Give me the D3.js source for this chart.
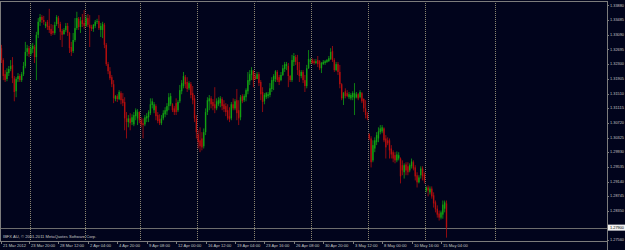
<!DOCTYPE html>
<html>
<head>
<meta charset="utf-8">
<script src="https://cdn.jsdelivr.net/npm/d3@7"></script>
<style>
html, body { margin: 0; padding: 0; background: #01041c; }
svg { display: block; }
text { font-family: "Liberation Sans", Arial, sans-serif; }
</style>
</head>
<body>
<svg id="chart" width="625" height="250"></svg>
<script>
// EURUSD H4 bars, [open, high, low, close]
const candles = [
	[1.3241,1.3268,1.3236,1.3263],[1.3273,1.3282,1.3233,1.3241],[1.3241,1.3246,1.3187,1.3198],[1.3203,1.3214,1.3182,1.3187],
	[1.3190,1.3219,1.3184,1.3209],[1.3206,1.3225,1.3198,1.3217],[1.3217,1.3241,1.3211,1.3225],[1.3228,1.3249,1.3179,1.3192],
	[1.3192,1.3198,1.3130,1.3155],[1.3157,1.3195,1.3141,1.3190],[1.3190,1.3206,1.3182,1.3198],[1.3198,1.3203,1.3182,1.3187],
	[1.3187,1.3209,1.3182,1.3203],[1.3203,1.3236,1.3198,1.3225],[1.3225,1.3290,1.3219,1.3263],[1.3263,1.3282,1.3252,1.3273],
	[1.3273,1.3279,1.3249,1.3257],[1.3257,1.3284,1.3252,1.3273],[1.3271,1.3287,1.3260,1.3279],[1.3276,1.3282,1.3233,1.3249],
	[1.3249,1.3317,1.3187,1.3309],[1.3309,1.3354,1.3300,1.3344],[1.3344,1.3365,1.3333,1.3357],[1.3357,1.3362,1.3341,1.3349],
	[1.3349,1.3360,1.3336,1.3344],[1.3333,1.3344,1.3327,1.3338],[1.3344,1.3349,1.3322,1.3330],[1.3333,1.3379,1.3314,1.3322],
	[1.3325,1.3338,1.3306,1.3311],[1.3319,1.3336,1.3309,1.3314],[1.3314,1.3344,1.3309,1.3336],[1.3338,1.3362,1.3333,1.3357],
	[1.3354,1.3360,1.3327,1.3338],[1.3338,1.3344,1.3295,1.3317],[1.3319,1.3325,1.3276,1.3309],[1.3311,1.3327,1.3309,1.3322],
	[1.3322,1.3341,1.3317,1.3333],[1.3333,1.3341,1.3306,1.3314],[1.3314,1.3317,1.3260,1.3273],[1.3276,1.3290,1.3252,1.3263],
	[1.3265,1.3314,1.3260,1.3295],[1.3295,1.3354,1.3290,1.3327],[1.3327,1.3371,1.3322,1.3354],[1.3352,1.3357,1.3322,1.3330],
	[1.3330,1.3357,1.3314,1.3346],[1.3349,1.3365,1.3330,1.3338],[1.3341,1.3376,1.3325,1.3333],[1.3333,1.3362,1.3330,1.3354],
	[1.3354,1.3365,1.3330,1.3336],[1.3336,1.3362,1.3276,1.3327],[1.3330,1.3336,1.3319,1.3325],[1.3325,1.3338,1.3317,1.3336],
	[1.3333,1.3349,1.3327,1.3344],[1.3344,1.3352,1.3338,1.3346],[1.3346,1.3362,1.3322,1.3327],[1.3322,1.3341,1.3303,1.3333],
	[1.3322,1.3344,1.3300,1.3338],[1.3336,1.3341,1.3273,1.3282],[1.3282,1.3287,1.3225,1.3230],[1.3230,1.3236,1.3203,1.3211],
	[1.3211,1.3222,1.3187,1.3192],[1.3195,1.3201,1.3168,1.3176],[1.3176,1.3187,1.3125,1.3138],[1.3136,1.3147,1.3130,1.3144],
	[1.3144,1.3149,1.3128,1.3136],[1.3136,1.3160,1.3133,1.3155],[1.3152,1.3157,1.3122,1.3133],[1.3136,1.3152,1.3117,1.3125],
	[1.3128,1.3141,1.3052,1.3084],[1.3084,1.3101,1.3030,1.3074],[1.3074,1.3093,1.3060,1.3084],[1.3084,1.3098,1.3052,1.3071],
	[1.3074,1.3095,1.3066,1.3087],[1.3068,1.3101,1.3063,1.3093],[1.3090,1.3111,1.3079,1.3106],[1.3084,1.3109,1.3066,1.3101],
	[1.3101,1.3103,1.3071,1.3079],[1.3079,1.3087,1.3060,1.3068],[1.3071,1.3084,1.3030,1.3066],[1.3068,1.3093,1.3063,1.3087],
	[1.3084,1.3098,1.3074,1.3090],[1.3087,1.3106,1.3074,1.3101],[1.3098,1.3138,1.3093,1.3122],[1.3120,1.3138,1.3111,1.3130],
	[1.3106,1.3128,1.3098,1.3122],[1.3117,1.3122,1.3079,1.3090],[1.3093,1.3101,1.3071,1.3077],[1.3082,1.3095,1.3066,1.3071],
	[1.3071,1.3093,1.3066,1.3084],[1.3084,1.3106,1.3079,1.3098],[1.3095,1.3114,1.3087,1.3106],[1.3103,1.3125,1.3093,1.3117],
	[1.3117,1.3152,1.3106,1.3141],[1.3122,1.3152,1.3117,1.3144],[1.3122,1.3125,1.3101,1.3106],[1.3111,1.3117,1.3093,1.3101],
	[1.3125,1.3138,1.3093,1.3101],[1.3106,1.3133,1.3101,1.3128],[1.3130,1.3174,1.3125,1.3160],[1.3157,1.3187,1.3149,1.3179],
	[1.3171,1.3209,1.3165,1.3198],[1.3195,1.3201,1.3165,1.3176],[1.3182,1.3195,1.3155,1.3163],[1.3165,1.3184,1.3160,1.3179],
	[1.3176,1.3182,1.3138,1.3147],[1.3152,1.3171,1.3122,1.3133],[1.3138,1.3147,1.3074,1.3084],[1.3084,1.3093,1.3030,1.3047],
	[1.3041,1.3052,1.3003,1.3020],[1.3025,1.3060,1.2993,1.3009],[1.3030,1.3047,1.2998,1.3006],[1.3009,1.3057,1.3003,1.3047],
	[1.3047,1.3111,1.3039,1.3101],[1.3101,1.3141,1.3093,1.3133],[1.3130,1.3147,1.3106,1.3138],[1.3138,1.3144,1.3111,1.3122],
	[1.3128,1.3136,1.3106,1.3117],[1.3122,1.3168,1.3098,1.3111],[1.3111,1.3138,1.3106,1.3130],[1.3122,1.3141,1.3117,1.3133],
	[1.3125,1.3144,1.3114,1.3138],[1.3136,1.3141,1.3106,1.3117],[1.3122,1.3133,1.3101,1.3109],[1.3117,1.3125,1.3090,1.3101],
	[1.3106,1.3122,1.3079,1.3084],[1.3090,1.3114,1.3074,1.3082],[1.3084,1.3128,1.3079,1.3122],[1.3122,1.3138,1.3106,1.3111],
	[1.3111,1.3136,1.3106,1.3130],[1.3133,1.3163,1.3079,1.3098],[1.3106,1.3133,1.3066,1.3084],[1.3087,1.3147,1.3079,1.3141],
	[1.3144,1.3149,1.3125,1.3130],[1.3133,1.3149,1.3128,1.3144],[1.3141,1.3165,1.3130,1.3160],[1.3157,1.3209,1.3149,1.3187],
	[1.3184,1.3214,1.3174,1.3203],[1.3201,1.3222,1.3187,1.3214],[1.3211,1.3214,1.3168,1.3187],[1.3198,1.3206,1.3187,1.3190],
	[1.3190,1.3209,1.3190,1.3203],[1.3203,1.3209,1.3171,1.3179],[1.3182,1.3187,1.3133,1.3149],[1.3155,1.3168,1.3101,1.3128],
	[1.3130,1.3152,1.3122,1.3147],[1.3141,1.3155,1.3136,1.3152],[1.3144,1.3155,1.3138,1.3149],[1.3147,1.3179,1.3141,1.3165],
	[1.3163,1.3195,1.3155,1.3187],[1.3184,1.3203,1.3160,1.3198],[1.3190,1.3214,1.3182,1.3211],[1.3209,1.3214,1.3182,1.3187],
	[1.3195,1.3201,1.3174,1.3182],[1.3187,1.3209,1.3184,1.3201],[1.3201,1.3228,1.3198,1.3219],[1.3217,1.3236,1.3209,1.3230],
	[1.3225,1.3236,1.3214,1.3230],[1.3225,1.3233,1.3168,1.3198],[1.3198,1.3201,1.3182,1.3187],[1.3187,1.3255,1.3182,1.3241],
	[1.3236,1.3260,1.3225,1.3252],[1.3249,1.3255,1.3228,1.3236],[1.3236,1.3255,1.3201,1.3214],[1.3214,1.3236,1.3182,1.3198],
	[1.3198,1.3214,1.3192,1.3209],[1.3209,1.3214,1.3179,1.3187],[1.3187,1.3201,1.3155,1.3171],[1.3171,1.3228,1.3165,1.3219],
	[1.3219,1.3268,1.3217,1.3244],[1.3236,1.3246,1.3230,1.3241],[1.3241,1.3246,1.3230,1.3233],[1.3238,1.3244,1.3228,1.3233],
	[1.3233,1.3244,1.3230,1.3238],[1.3241,1.3252,1.3222,1.3230],[1.3238,1.3241,1.3214,1.3219],[1.3219,1.3236,1.3206,1.3233],
	[1.3230,1.3241,1.3228,1.3236],[1.3233,1.3241,1.3228,1.3238],[1.3236,1.3244,1.3233,1.3241],[1.3238,1.3252,1.3236,1.3246],
	[1.3244,1.3273,1.3241,1.3263],[1.3265,1.3279,1.3236,1.3241],[1.3241,1.3246,1.3209,1.3214],[1.3214,1.3236,1.3211,1.3230],
	[1.3230,1.3236,1.3201,1.3209],[1.3209,1.3228,1.3165,1.3176],[1.3176,1.3179,1.3133,1.3138],[1.3138,1.3155,1.3120,1.3152],
	[1.3157,1.3165,1.3138,1.3144],[1.3152,1.3160,1.3141,1.3144],[1.3141,1.3155,1.3136,1.3149],[1.3138,1.3152,1.3133,1.3147],
	[1.3141,1.3157,1.3133,1.3152],[1.3138,1.3179,1.3093,1.3152],[1.3141,1.3155,1.3138,1.3149],[1.3149,1.3152,1.3133,1.3138],
	[1.3141,1.3160,1.3138,1.3155],[1.3152,1.3155,1.3125,1.3130],[1.3136,1.3138,1.3101,1.3111],[1.3111,1.3133,1.3084,1.3093],
	[1.3093,1.3101,1.3079,1.3084],[1.3041,1.3044,1.3025,1.3030],[1.3030,1.3036,1.2952,1.2966],[1.2971,1.3025,1.2966,1.3012],
	[1.3003,1.3033,1.2993,1.3025],[1.3020,1.3047,1.3012,1.3039],[1.3030,1.3060,1.3020,1.3049],[1.3047,1.3066,1.3041,1.3057],
	[1.3049,1.3066,1.3044,1.3060],[1.3057,1.3060,1.3020,1.3025],[1.3030,1.3039,1.2976,1.3006],[1.3025,1.3033,1.3012,1.3017],
	[1.3025,1.3030,1.2976,1.2998],[1.3003,1.3012,1.2976,1.2987],[1.2993,1.2998,1.2966,1.2976],[1.2985,1.2993,1.2963,1.2971],
	[1.2971,1.2995,1.2966,1.2987],[1.2976,1.2993,1.2971,1.2985],[1.2976,1.2979,1.2909,1.2928],[1.2958,1.2971,1.2931,1.2944],
	[1.2939,1.2963,1.2922,1.2958],[1.2960,1.2966,1.2931,1.2944],[1.2955,1.2966,1.2931,1.2939],[1.2944,1.2963,1.2939,1.2958],
	[1.2955,1.2976,1.2949,1.2968],[1.2966,1.2971,1.2944,1.2949],[1.2952,1.2958,1.2917,1.2928],[1.2931,1.2939,1.2898,1.2912],
	[1.2912,1.2931,1.2909,1.2925],[1.2931,1.2955,1.2922,1.2949],[1.2949,1.2955,1.2917,1.2928],[1.2933,1.2939,1.2909,1.2917],
	[1.2890,1.2901,1.2885,1.2898],[1.2898,1.2904,1.2874,1.2890],[1.2885,1.2901,1.2879,1.2895],[1.2895,1.2901,1.2868,1.2874],
	[1.2877,1.2885,1.2844,1.2855],[1.2858,1.2863,1.2831,1.2839],[1.2841,1.2850,1.2817,1.2825],[1.2828,1.2836,1.2809,1.2817],
	[1.2817,1.2836,1.2812,1.2831],[1.2825,1.2863,1.2814,1.2852],[1.2841,1.2863,1.2831,1.2858],[1.2855,1.2863,1.2763,1.2790]
];

// time labels, one every 16 bars
const timeLabels = ["21 Mar 2012", "23 Mar 20:00", "28 Mar 12:00", "2 Apr 04:00", "4 Apr 20:00", "9 Apr 08:00",
	"12 Apr 00:00", "16 Apr 12:00", "19 Apr 04:00", "23 Apr 16:00", "26 Apr 08:00", "30 Apr 20:00",
	"3 May 12:00", "8 May 00:00", "10 May 16:00", "15 May 04:00"];
const labelEvery = 16;

const priceTicks = [1.33880, 1.33485, 1.33090, 1.32695, 1.32300, 1.31905, 1.31510, 1.31115, 1.30720,
	1.30325, 1.29930, 1.29535, 1.29140, 1.28745, 1.28350, 1.27955, 1.27560];

// bars where a new week starts (period separators), plus a vertical marker
const separatorBars = [17, 47, 77, 108, 139, 170, 201, 232, 270];

const copyright = "IBFX AU, \u00a9 2001-2011 MetaQuotes Software Corp.";

const W = 625, H = 250;
const plot = { left: 0, right: 607, top: 1, bottom: 241 };
const bg = "#01041c";
const frameColor = "#7c7c7c";
const textColor = "#c4c4c4";
const bullColor = "#12a012";
const bearColor = "#b20e0e";
const fontSize = 4.1;

const svg = d3.select("#chart");
svg.append("rect").attr("width", W).attr("height", H).attr("fill", bg);

// bar index -> x, chart shifted so there is room on the right
const x = d3.scaleLinear().domain([0, 330]).range([-0.4, 606.5]);
const y = d3.scaleLinear().domain([1.2754, 1.3400]).range([plot.bottom, plot.top]);

const lastClose = candles[candles.length - 1][3];
const fmt = d3.format(".5f");

svg.append("defs").append("clipPath").attr("id", "plotClip")
	.append("rect")
	.attr("x", plot.left + 1).attr("y", plot.top + 0.5)
	.attr("width", plot.right - plot.left - 1).attr("height", plot.bottom - plot.top - 1);

const inner = svg.append("g").attr("clip-path", "url(#plotClip)");

// period separators
inner.append("g")
	.selectAll("line")
	.data(separatorBars)
	.join("line")
	.attr("x1", d => Math.round(x(d) - 0.9) + 0.5)
	.attr("x2", d => Math.round(x(d) - 0.9) + 0.5)
	.attr("y1", plot.top)
	.attr("y2", plot.bottom)
	.attr("stroke", "#8a8570")
	.attr("stroke-width", 1)
	.attr("stroke-dasharray", "1,1");

// bid line
inner.append("line")
	.attr("x1", plot.left).attr("x2", plot.right)
	.attr("y1", Math.round(y(lastClose)) + 0.5).attr("y2", Math.round(y(lastClose)) + 0.5)
	.attr("stroke", "#6d6d6d").attr("stroke-width", 1);

// candles
const bar = inner.append("g")
	.selectAll("g")
	.data(candles)
	.join("g")
	.attr("fill", d => d[3] >= d[0] ? bullColor : bearColor)
	.attr("stroke", d => d[3] >= d[0] ? bullColor : bearColor);

bar.append("line")
	.attr("x1", (d, i) => x(i))
	.attr("x2", (d, i) => x(i))
	.attr("y1", d => y(d[1]))
	.attr("y2", d => y(d[2]))
	.attr("stroke-width", 0.8);

bar.append("rect")
	.attr("x", (d, i) => x(i) - 0.7)
	.attr("width", 1.4)
	.attr("y", d => y(Math.max(d[0], d[3])))
	.attr("height", d => Math.max(0.8, Math.abs(y(d[0]) - y(d[3]))))
	.attr("stroke", "none");

// copyright
svg.append("text")
	.attr("x", 3).attr("y", 237)
	.attr("dominant-baseline", "middle")
	.attr("font-size", fontSize)
	.attr("fill", textColor)
	.text(copyright);

// frame
const frame = svg.append("g").attr("stroke", frameColor).attr("stroke-width", 1).attr("fill", "none");
frame.append("line").attr("x1", 0).attr("x2", plot.right).attr("y1", plot.top + 0.5).attr("y2", plot.top + 0.5);
frame.append("line").attr("x1", 0.5).attr("x2", 0.5).attr("y1", plot.top).attr("y2", plot.bottom);
frame.append("line").attr("x1", plot.right + 0.5).attr("x2", plot.right + 0.5).attr("y1", plot.top).attr("y2", H);
frame.append("line").attr("x1", 0).attr("x2", plot.right).attr("y1", plot.bottom + 0.5).attr("y2", plot.bottom + 0.5);

// price axis
const bidY = y(lastClose);
const shownTicks = priceTicks.filter(p => Math.abs(y(p) - bidY) > 6);
const pAxis = svg.append("g");
pAxis.selectAll("line")
	.data(shownTicks)
	.join("line")
	.attr("x1", plot.right).attr("x2", plot.right + 2)
	.attr("y1", d => Math.round(y(d)) + 0.5).attr("y2", d => Math.round(y(d)) + 0.5)
	.attr("stroke", frameColor);
pAxis.selectAll("text")
	.data(shownTicks)
	.join("text")
	.attr("x", plot.right + 3)
	.attr("y", d => y(d))
	.attr("dominant-baseline", "middle")
	.attr("font-size", fontSize)
	.attr("textLength", 14)
	.attr("lengthAdjust", "spacingAndGlyphs")
	.attr("fill", textColor)
	.text(d => fmt(d));

// bid label
svg.append("rect")
	.attr("x", plot.right + 1).attr("y", bidY - 3)
	.attr("width", W - plot.right - 1).attr("height", 6)
	.attr("fill", "#f2f2f2");
svg.append("text")
	.attr("x", plot.right + 3).attr("y", bidY)
	.attr("dominant-baseline", "middle")
	.attr("font-size", fontSize)
	.attr("textLength", 14)
	.attr("lengthAdjust", "spacingAndGlyphs")
	.attr("fill", "#000000")
	.text(fmt(lastClose));

// time axis
const tAxis = svg.append("g")
	.selectAll("g")
	.data(timeLabels)
	.join("g")
	.attr("transform", (d, i) => `translate(${Math.max(1, Math.round(x(i * labelEvery))) + 0.5},0)`);
tAxis.append("line")
	.attr("y1", plot.bottom).attr("y2", plot.bottom + 3)
	.attr("stroke", frameColor);
tAxis.append("text")
	.attr("x", 1.5).attr("y", plot.bottom + 4.8)
	.attr("dominant-baseline", "middle")
	.attr("font-size", fontSize)
	.attr("fill", textColor)
	.text(d => d);
</script>
</body>
</html>
